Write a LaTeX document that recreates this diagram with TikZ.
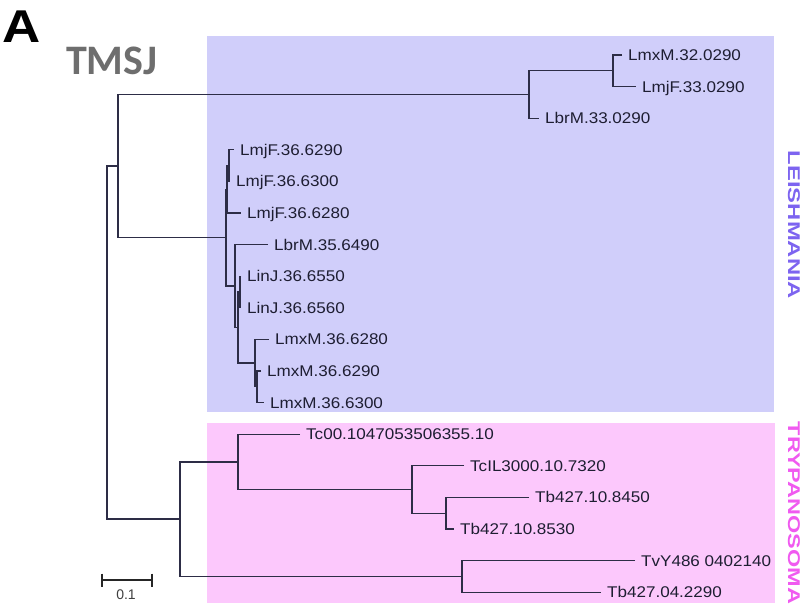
\documentclass[tikz,border=0pt]{standalone}
\usepackage{graphicx}
\usepackage{fontspec}
\setmainfont{Liberation Sans}
\newfontfamily\carlitofont{Carlito}
\definecolor{leishbox}{RGB}{208,206,250}
\definecolor{trypbox}{RGB}{252,200,252}
\definecolor{branchcol}{RGB}{45,45,70}
\definecolor{labelcol}{RGB}{30,30,50}
\definecolor{leishtxt}{RGB}{125,100,240}
\definecolor{tryptxt}{RGB}{240,90,240}
\definecolor{tmsjcol}{RGB}{110,110,110}
\newcommand{\leaflab}[1]{\scalebox{1.1}[1]{#1}}
\tikzset{
  lbl/.style={anchor=west, inner sep=0pt, text height=11.1pt, text depth=0pt,
    font=\fontsize{15.5}{16}\selectfont, text=labelcol},
  br/.style={draw=branchcol, line width=1.35pt},
  clade/.style={rotate=-90, inner sep=0pt, font=\bfseries\fontsize{17}{18}\selectfont}
}
\begin{document}
\begin{tikzpicture}[x=1pt,y=-1pt]
\useasboundingbox (0,0) rectangle (805,609);
\fill[white] (0,0) rectangle (805,609);
% clade boxes
\fill[leishbox] (207,36) rectangle (774,412);
\fill[trypbox] (207,423) rectangle (775,603);
% headings
\node[anchor=base west, inner sep=0pt, font=\bfseries\fontsize{46}{46}\selectfont] (pA) at (2,43) {\scalebox{1.15}[1]{A}};
\node[anchor=base west, inner sep=0pt, font=\carlitofont\bfseries\fontsize{42}{42}\selectfont, text=tmsjcol] (tmsj) at (66,75) {TMSJ};
\node[clade, text=leishtxt] (gL) at (794,225) {\scalebox{1.4}[1]{LEISHMANIA}};
\node[clade, text=tryptxt] (gT) at (794,513) {\scalebox{1.38}[1]{TRYPANOSOMA}};
% leaf ends
\coordinate (e0) at (622,55);
\coordinate (e1) at (636,86.6);
\coordinate (e2) at (539,118.2);
\coordinate (e3) at (234,149.8);
\coordinate (e4) at (230,181.4);
\coordinate (e5) at (241,213);
\coordinate (e6) at (268,244.6);
\coordinate (e7) at (241,276.2);
\coordinate (e8) at (241,307.8);
\coordinate (e9) at (269,339.4);
\coordinate (e10) at (261,371);
\coordinate (e11) at (264,402.6);
\coordinate (e12) at (300,434.2);
\coordinate (e13) at (464,465.8);
\coordinate (e14) at (529,497.4);
\coordinate (e15) at (454,529);
\coordinate (e16) at (635,560.6);
\coordinate (e17) at (601,592.2);
% internal nodes
\coordinate (nA3) at (613,70.8);
\coordinate (nA2) at (529,94.5);
\coordinate (nP) at (229,165.6);
\coordinate (nC0) at (227,189.3);
\coordinate (nQ) at (240,292);
\coordinate (nM2) at (257,386.8);
\coordinate (nM) at (255,363.1);
\coordinate (nS2) at (238,327.55);
\coordinate (nS) at (235,286.1);
\coordinate (nL) at (226,237.7);
\coordinate (nA1) at (118,166.1);
\coordinate (nT4) at (446,513.2);
\coordinate (nT3) at (412,489.5);
\coordinate (nT1) at (238,461.85);
\coordinate (nT2) at (462,576.4);
\coordinate (nT) at (180,519.1);
\coordinate (nR) at (107,342.6);
% branches
\draw[br] (e0) -| (nA3) |- (e1);
\draw[br] (nA3) -| (nA2) |- (e2);
\draw[br] (e3) -| (nP) |- (e4);
\draw[br] (nP) -| (nC0) |- (e5);
\draw[br] (e7) -| (nQ) |- (e8);
\draw[br] (e10) -| (nM2) |- (e11);
\draw[br] (e9) -| (nM) |- (nM2);
\draw[br] (nQ) -| (nS2) |- (nM);
\draw[br] (e6) -| (nS) |- (nS2);
\draw[br] (nC0) -| (nL) |- (nS);
\draw[br] (nA2) -| (nA1) |- (nL);
\draw[br] (e14) -| (nT4) |- (e15);
\draw[br] (e13) -| (nT3) |- (nT4);
\draw[br] (e12) -| (nT1) |- (nT3);
\draw[br] (e16) -| (nT2) |- (e17);
\draw[br] (nT1) -| (nT) |- (nT2);
\draw[br] (nA1) -| (nR) |- (nT);
% leaf labels
\node[lbl] (l0) at ([xshift=6pt]e0) {\leaflab{LmxM.32.0290}};
\node[lbl] (l1) at ([xshift=6pt]e1) {\leaflab{LmjF.33.0290}};
\node[lbl] (l2) at ([xshift=6pt]e2) {\leaflab{LbrM.33.0290}};
\node[lbl] (l3) at ([xshift=6pt]e3) {\leaflab{LmjF.36.6290}};
\node[lbl] (l4) at ([xshift=6pt]e4) {\leaflab{LmjF.36.6300}};
\node[lbl] (l5) at ([xshift=6pt]e5) {\leaflab{LmjF.36.6280}};
\node[lbl] (l6) at ([xshift=6pt]e6) {\leaflab{LbrM.35.6490}};
\node[lbl] (l7) at ([xshift=6pt]e7) {\leaflab{LinJ.36.6550}};
\node[lbl] (l8) at ([xshift=6pt]e8) {\leaflab{LinJ.36.6560}};
\node[lbl] (l9) at ([xshift=6pt]e9) {\leaflab{LmxM.36.6280}};
\node[lbl] (l10) at ([xshift=6pt]e10) {\leaflab{LmxM.36.6290}};
\node[lbl] (l11) at ([xshift=6pt]e11) {\leaflab{LmxM.36.6300}};
\node[lbl] (l12) at ([xshift=6pt]e12) {\leaflab{Tc00.1047053506355.10}};
\node[lbl] (l13) at ([xshift=6pt]e13) {\leaflab{TcIL3000.10.7320}};
\node[lbl] (l14) at ([xshift=6pt]e14) {\leaflab{Tb427.10.8450}};
\node[lbl] (l15) at ([xshift=6pt]e15) {\leaflab{Tb427.10.8530}};
\node[lbl] (l16) at ([xshift=6pt]e16) {\leaflab{TvY486 0402140}};
\node[lbl] (l17) at ([xshift=6pt]e17) {\leaflab{Tb427.04.2290}};
% scale bar
\coordinate (sb1) at (102,580);
\coordinate (sb2) at (152,580);
\draw[line width=2.2pt, draw=black!85] (sb1) -- (sb2);
\draw[line width=2.2pt, draw=black!85] ([yshift=6.5pt]sb1) -- ([yshift=-6.5pt]sb1);
\draw[line width=2.2pt, draw=black!85] ([yshift=6.5pt]sb2) -- ([yshift=-6.5pt]sb2);
\node[inner sep=0pt, font=\fontsize{14}{15}\selectfont, text=black!75] (sbl) at (126,595) {0.1};
\end{tikzpicture}
\end{document}
